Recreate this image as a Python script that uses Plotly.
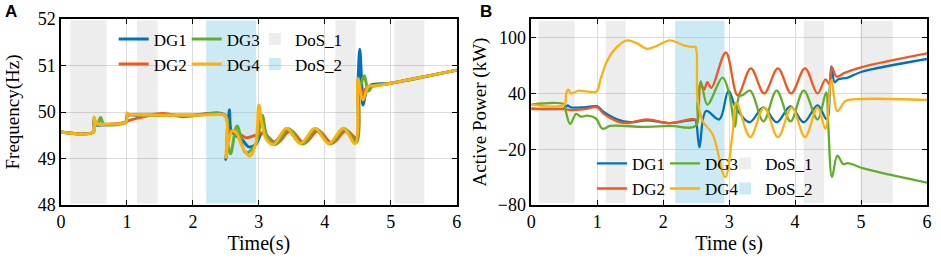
import plotly.graph_objects as go

# ---------------- data: frequency (Hz) ----------------
f_dg1_t = [0, 0.49, 0.5, 0.54, 0.6, 0.99, 1.0, 1.2, 2.0, 2.49, 2.5, 2.53, 2.555, 2.58, 2.65, 2.75, 2.85, 2.95, 3.05, 3.15,
           3.23, 3.43, 3.64, 3.86, 4.07, 4.29, 4.47, 4.5, 4.53, 4.56, 4.58, 4.63, 4.7, 5.0, 6.0]
f_dg1_v = [49.57, 49.57, 49.85, 49.72, 49.72, 49.8, 49.92, 49.93, 49.93, 49.92, 48.98, 49.6, 50.05, 49.6, 49.5, 49.4,
           49.25, 49.3, 49.55, 49.45, 49.35, 49.62, 49.33, 49.62, 49.33, 49.62, 49.4, 50.5, 51.35, 50.6, 50.15, 50.45,
           50.58, 50.62, 50.9]

f_dg2_t = [0, 0.49, 0.5, 0.55, 0.7, 0.99, 1.0, 1.2, 1.55, 1.85, 2.2, 2.49, 2.55, 2.65, 2.8, 2.95, 3.05, 3.27, 3.48,
           3.69, 3.9, 4.11, 4.32, 4.48, 4.52, 4.57, 4.62, 4.7, 5.0, 6.0]
f_dg2_v = [49.57, 49.57, 49.78, 49.74, 49.73, 49.78, 49.8, 49.88, 49.97, 49.9, 49.96, 49.93, 49.6, 49.58, 49.45, 49.5,
           49.55, 49.33, 49.6, 49.33, 49.6, 49.33, 49.6, 49.45, 50.6, 50.4, 50.5, 50.55, 50.62, 50.9]

f_dg3_t = [0, 0.49, 0.5, 0.55, 0.6, 0.65, 0.99, 1.0, 1.2, 2.0, 2.49, 2.52, 2.57, 2.67, 2.8, 2.95, 3.05, 3.12, 3.25,
           3.45, 3.66, 3.87, 4.08, 4.3, 4.48, 4.52, 4.55, 4.6, 4.66, 4.72, 5.0, 6.0]
f_dg3_v = [49.57, 49.57, 49.8, 49.72, 49.88, 49.74, 49.79, 49.93, 49.93, 49.93, 49.92, 49.4, 49.1, 49.7, 49.12, 49.3,
           49.93, 49.5, 49.3, 49.64, 49.31, 49.64, 49.31, 49.64, 49.35, 50.4, 50.6, 50.78, 50.45, 50.55, 50.62, 50.9]

f_dg4_t = [0, 0.49, 0.5, 0.52, 0.56, 0.7, 0.99, 1.0, 1.02, 1.2, 1.6, 2.0, 2.3, 2.49, 2.5, 2.53, 2.6, 2.66, 2.75, 2.86,
           2.95, 3.0, 3.04, 3.12, 3.22, 3.42, 3.63, 3.85, 4.06, 4.28, 4.46, 4.5, 4.53, 4.58, 4.66, 4.75, 5.0, 6.0]
f_dg4_v = [49.57, 49.57, 49.9, 49.82, 49.74, 49.74, 49.79, 49.98, 49.96, 49.94, 49.93, 49.93, 49.94, 49.92, 49.02,
           49.3, 49.6, 49.55, 49.25, 49.05, 49.3, 50.15, 49.8, 49.4, 49.3, 49.65, 49.32, 49.65, 49.32, 49.65, 49.32,
           50.72, 50.5, 50.26, 50.55, 50.56, 50.62, 50.9]

# ---------------- data: active power (kW) ----------------
p_dg1_t = [0, 0.5, 0.55, 0.6, 0.8, 1.0, 1.1, 1.3, 1.5, 1.75, 2.1, 2.4, 2.49, 2.51, 2.55, 2.65, 2.85, 2.99, 3.1, 3.31,
           3.52, 3.72, 3.93, 4.13, 4.34, 4.48, 4.53, 4.55, 4.6, 4.65, 4.8, 5.0, 6.0]
p_dg1_v = [24, 24, 27, 25, 25, 26, 20, 12, 9, 11, 8, 11, 11, 5, -18, 21, 12, 43, 25, 9, 25, 9, 26, 9, 27, 12, 50, 69,
           52, 55, 57, 63, 77]

p_dg2_t = [0, 0.5, 0.6, 0.8, 1.0, 1.1, 1.3, 1.45, 1.75, 2.1, 2.4, 2.49, 2.52, 2.57, 2.62, 2.67, 2.73, 2.95, 3.13, 3.33,
           3.53, 3.74, 3.94, 4.15, 4.34, 4.46, 4.52, 4.56, 4.63, 4.75, 5.0, 6.0]
p_dg2_v = [23, 23, 22, 23, 25, 18, 10, 8, 12, 8, 12, 12, 8, 50, 44, 52, 46, 84, 38, 67, 40, 67, 40, 67, 40, 55, 50,
           68, 58, 62, 68, 83]

p_dg3_t = [0, 0.5, 0.52, 0.59, 0.68, 0.75, 0.85, 0.98, 1.08, 1.2, 1.7, 2.1, 2.49, 2.52, 2.57, 2.67, 2.9, 3.0, 3.09,
           3.15, 3.2, 3.32, 3.52, 3.72, 3.93, 4.13, 4.34, 4.47, 4.5, 4.56, 4.64, 4.73, 4.8, 5.05, 6.0]
p_dg3_v = [28, 28, 22, 7, 18, 15, 16, 13, 2, 5, 4, 5, 5, 30, 53, 28, 57, 40, 4, 37, 38, 43, 10, 43, 10, 43, 12, 41, 10,
           -50, -27, -36, -35, -41, -56]

p_dg4_t = [0, 0.5, 0.53, 0.56, 0.6, 0.65, 0.72, 0.85, 0.99, 1.05, 1.15, 1.3, 1.45, 1.6, 1.75, 1.9, 2.1, 2.3, 2.45,
           2.49, 2.52, 2.6, 2.75, 2.94, 3.05, 3.11, 3.32, 3.53, 3.74, 3.95, 4.15, 4.34, 4.46, 4.55, 4.64, 4.77, 5.0, 6.0]
p_dg4_v = [28, 28, 40, 44, 40, 41, 43, 42, 42, 55, 75, 90, 97, 94, 88, 91, 97, 92, 90, 90, 35, 10, -4, -50, -4, 30, -7,
           25, -7, 25, -7, 25, 2, 54, 21, 32, 34, 33]

# ---------------- data: DoS intervals (s) ----------------
dos1_left = [(0.14, 0.69), (1.15, 1.465), (4.16, 4.47), (5.055, 5.51)]
dos2_left = [(2.20, 2.96)]
dos1_right = [(0.11, 0.66), (1.13, 1.43), (4.13, 4.44), (4.99, 5.48)]
dos2_right = [(2.18, 2.93)]

series_names = ["DG1", "DG2", "DG3", "DG4"]
x_ticks = [0, 1, 2, 3, 4, 5, 6]
f_ticks = [48, 49, 50, 51, 52]
p_ticks = [-80, -20, 40, 100]

# ---------------- style ----------------
colors = ["#0072BD", "#F2571E", "#63AD2C", "#FDB10F"]
groups = ["g1", "g1", "g2", "g2"]
gray_fill = "rgba(0,0,0,0.07)"
cyan_fill = "rgba(95,190,220,0.32)"
serif = "Liberation Serif"
SMOOTH = 1.0

fig = go.Figure()

freq = [(f_dg1_t, f_dg1_v), (f_dg2_t, f_dg2_v), (f_dg3_t, f_dg3_v), (f_dg4_t, f_dg4_v)]
power = [(p_dg1_t, p_dg1_v), (p_dg2_t, p_dg2_v), (p_dg3_t, p_dg3_v), (p_dg4_t, p_dg4_v)]

for i, (t, v) in enumerate(freq):
    fig.add_trace(go.Scatter(x=t, y=v, mode="lines", name=series_names[i],
                             line=dict(color=colors[i], width=3, shape="spline", smoothing=SMOOTH),
                             xaxis="x", yaxis="y", legend="legend", legendgroup=groups[i],
                             legendrank=i + 1))
for i, (t, v) in enumerate(power):
    fig.add_trace(go.Scatter(x=t, y=v, mode="lines", name=series_names[i],
                             line=dict(color=colors[i], width=2.3, shape="spline", smoothing=SMOOTH),
                             xaxis="x2", yaxis="y2", legend="legend2", legendgroup=groups[i],
                             legendrank=i + 1))


def band_trace(intervals, ymin, ymax, name, color, xa, ya, leg, rank):
    return go.Bar(x=[(a + b) / 2 for a, b in intervals], width=[b - a for a, b in intervals],
                  base=[ymin] * len(intervals), y=[ymax - ymin] * len(intervals),
                  marker=dict(color=color, line=dict(width=0)), name=name,
                  xaxis=xa, yaxis=ya, legend=leg, legendgroup="g3", legendrank=rank,
                  hoverinfo="skip")


fig.add_trace(band_trace(dos1_left, 48.03, 51.97, "DoS_1", gray_fill, "x", "y", "legend3", 5))
fig.add_trace(band_trace(dos2_left, 48.03, 51.97, "DoS_2", cyan_fill, "x", "y", "legend3", 6))
fig.add_trace(band_trace(dos1_right, -78, 118, "DoS_1", gray_fill, "x2", "y2", "legend4", 5))
fig.add_trace(band_trace(dos2_right, -78, 118, "DoS_2", cyan_fill, "x2", "y2", "legend4", 6))

axis_common = dict(showline=True, linecolor="black", linewidth=1.5, mirror="ticks",
                   ticks="inside", ticklen=5, tickwidth=1.3, tickcolor="black",
                   showgrid=True, gridcolor="#DCDCDC", gridwidth=1, zeroline=False,
                   tickfont=dict(family=serif, size=18, color="black"))

W, H = 941, 259
L, R, T, B = 61, 9, 19, 54
pw = W - L - R

legend_common = dict(xanchor="left", yanchor="top", orientation="h",
                     traceorder="grouped", tracegroupgap=0, bgcolor="rgba(0,0,0,0)", borderwidth=0,
                     font=dict(family=serif, size=17, color="black"), itemwidth=30)
dg_entry = dict(entrywidth=28, entrywidthmode="pixels")

fig.update_layout(
    width=W, height=H, margin=dict(l=L, r=R, t=T, b=B),
    paper_bgcolor="white", plot_bgcolor="white", barmode="overlay",
    font=dict(family=serif, color="black"),
    xaxis=dict(domain=[0, (459 - 61) / pw], range=[0, 6], tickvals=x_ticks, anchor="y",
               title=dict(text="Time(s)", font=dict(family=serif, size=20), standoff=4), **axis_common),
    yaxis=dict(range=[48, 52], tickvals=f_ticks, anchor="x",
               title=dict(text="Frequency(Hz)", font=dict(family=serif, size=19), standoff=13), **axis_common),
    xaxis2=dict(domain=[(534 - 61) / pw, 1], range=[0, 6], tickvals=x_ticks, anchor="y2",
                title=dict(text="Time (s)", font=dict(family=serif, size=20), standoff=4), **axis_common),
    yaxis2=dict(range=[-80, 120], tickvals=p_ticks, anchor="x2",
                title=dict(text="Active Power (kW)", font=dict(family=serif, size=19), standoff=6), **axis_common),
    legend=dict(x=(114 - 61) / pw, y=0.987, **legend_common, **dg_entry),
    legend2=dict(x=(595 - 61) / pw, y=0.318, **legend_common, **dg_entry),
    legend3=dict(x=(256 - 61) / pw, y=0.987, **legend_common),
    legend4=dict(x=(729 - 61) / pw, y=0.318, **legend_common),
    annotations=[
        dict(text="<b>A</b>", x=(11 - 61) / pw, y=1 + (19 - 11) / (H - T - B), xref="paper", yref="paper",
             showarrow=False, xanchor="center", yanchor="middle",
             font=dict(family="Liberation Sans", size=17, color="black")),
        dict(text="<b>B</b>", x=(488 - 61) / pw, y=1 + (19 - 11) / (H - T - B), xref="paper", yref="paper",
             showarrow=False, xanchor="center", yanchor="middle",
             font=dict(family="Liberation Sans", size=17, color="black")),
    ],
)

fig.write_html("out.html", config=dict(displayModeBar=False),
               post_script="document.body.style.margin='0px';")
